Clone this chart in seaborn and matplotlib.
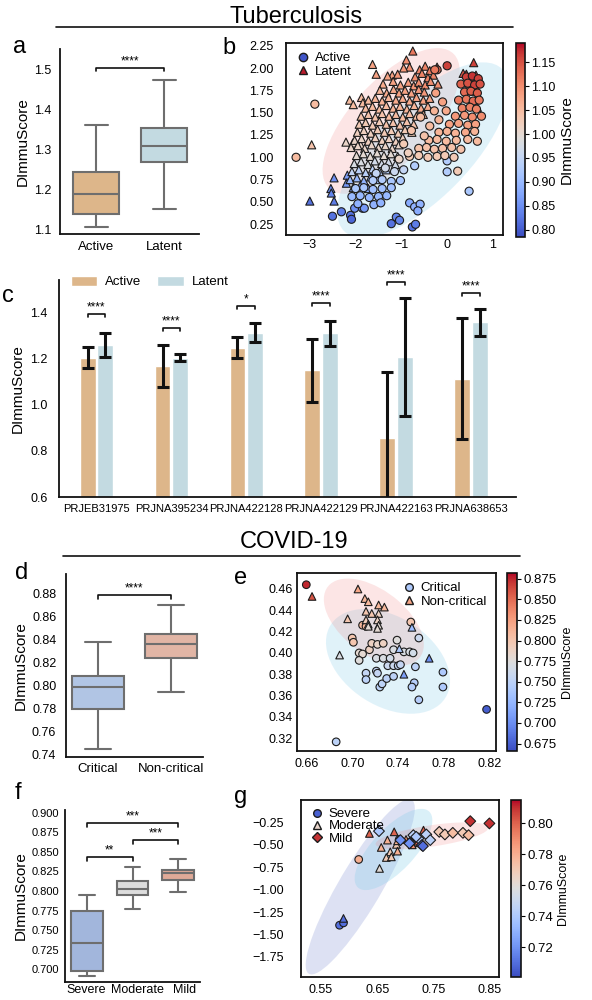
import numpy as np
import pandas as pd
import seaborn as sns
import matplotlib as mpl
import matplotlib.pyplot as plt
import matplotlib.transforms as transforms
from matplotlib.patches import Ellipse
from matplotlib.lines import Line2D

### Panel a: box summaries (min, q1, median, q3, max)
a_groups = ['Active', 'Latent']
a_active = [1.108, 1.140, 1.189, 1.244, 1.361]
a_latent = [1.151, 1.270, 1.309, 1.353, 1.472]
a_colors = ['#EBB77C', '#BEDDE6']

### Panel b: (x, y, DImmuScore)
b_active = [
    (-3.30, 1.00, 1.05), (-2.89, 1.595, 1.05), (0.00, 2.025, 1.16), (-0.22, 1.98, 1.13), (-0.27, 1.98, 1.12),
    (0.23, 0.845, 1.03), (0.00, 0.838, 0.93), (0.00, 0.96, 0.93), (0.48, 0.62, 0.92), (-0.71, 0.905, 0.93),
    (-2.505, 0.34, 0.82), (-2.31, 0.39, 0.83), (-2.11, 0.35, 0.82), (-2.09, 0.306, 0.81), (-2.02, 0.43, 0.85),
    (-1.85, 0.43, 0.86), (-1.81, 0.43, 0.86), (-1.22, 0.257, 0.82), (-1.11, 0.33, 0.84), (-1.04, 0.295, 0.84),
    (-0.82, 0.49, 0.88), (-0.71, 0.445, 0.89), (-0.59, 0.475, 0.89), (-0.64, 0.40, 0.88), (-0.76, 0.22, 0.82),
    (-0.69, 0.25, 0.83),
    (0.42, 1.90, 1.16), (0.55, 1.91, 1.17), (0.68, 1.88, 1.16),
    (0.30, 1.82, 1.14), (0.45, 1.83, 1.15), (0.60, 1.81, 1.16), (0.72, 1.82, 1.15),
    (0.38, 1.73, 1.13), (0.52, 1.74, 1.14), (0.66, 1.72, 1.14),
    (0.25, 1.64, 1.12), (0.42, 1.65, 1.12), (0.57, 1.63, 1.13), (0.70, 1.64, 1.12),
    (0.33, 1.55, 1.11), (0.50, 1.56, 1.11), (0.64, 1.54, 1.11),
    (0.18, 1.46, 1.09), (0.38, 1.47, 1.09), (0.55, 1.45, 1.10), (0.75, 1.46, 1.10),
    (0.05, 1.37, 1.08), (0.25, 1.38, 1.08), (0.45, 1.36, 1.08), (0.62, 1.37, 1.08),
    (-0.18, 1.28, 1.06), (0.00, 1.29, 1.06), (0.18, 1.27, 1.06), (0.40, 1.28, 1.07), (0.60, 1.29, 1.06),
    (-0.40, 1.19, 1.05), (-0.22, 1.20, 1.05), (-0.02, 1.18, 1.05), (0.20, 1.19, 1.05), (0.45, 1.20, 1.05), (0.66, 1.18, 1.05),
    (-0.62, 1.10, 1.04), (-0.45, 1.11, 1.04), (-0.28, 1.09, 1.04), (-0.10, 1.10, 1.04), (0.10, 1.11, 1.04), (0.30, 1.09, 1.04),
    (-0.82, 1.01, 1.03), (-0.62, 1.02, 1.03), (-0.42, 1.00, 1.03), (-0.22, 1.01, 1.03), (-0.05, 1.02, 1.03), (0.15, 1.00, 1.03),
    (-0.58, 1.45, 1.05), (-0.38, 1.35, 1.05), (-0.28, 1.52, 1.06), (-0.78, 1.30, 1.04), (-0.50, 1.24, 1.04),
    (-0.18, 1.42, 1.06), (-0.10, 1.62, 1.08), (-0.02, 1.52, 1.07), (-0.25, 1.72, 1.08), (-0.95, 1.15, 1.03),
    (-0.85, 1.05, 1.02), (-1.05, 0.98, 1.01),
    (-1.35, 0.88, 0.97), (-1.15, 0.84, 0.96), (-0.95, 0.86, 0.95), (-1.55, 0.82, 0.95),
    (-1.62, 0.74, 0.93), (-1.42, 0.75, 0.93), (-1.22, 0.73, 0.92), (-1.02, 0.74, 0.92),
    (-2.00, 0.65, 0.92), (-1.82, 0.66, 0.92), (-1.62, 0.64, 0.91), (-1.42, 0.65, 0.91), (-1.22, 0.66, 0.91),
    (-2.08, 0.56, 0.90), (-1.90, 0.57, 0.90), (-1.70, 0.55, 0.90), (-1.50, 0.56, 0.90), (-1.32, 0.57, 0.90),
    (-1.95, 0.48, 0.89), (-1.60, 0.47, 0.89), (-1.45, 0.49, 0.89),
]
b_latent = [
    (-2.96, 1.14, 1.04), (-3.00, 0.51, 0.82), (-2.47, 0.77, 0.85), (-2.54, 0.65, 0.84), (-2.53, 0.60, 0.84),
    (-2.47, 0.51, 0.83), (-2.18, 0.80, 0.87), (-2.20, 0.71, 0.86), (-2.13, 1.64, 1.05), (-2.05, 1.59, 1.05),
    (-1.87, 1.67, 1.05), (-1.84, 1.61, 1.05), (-1.63, 2.04, 1.08), (-1.55, 1.93, 1.08), (-0.89, 2.09, 1.10),
    (-0.75, 2.19, 1.12), (-0.82, 2.01, 1.10), (-1.20, 1.92, 1.08), (0.58, 2.06, 1.16), (0.35, 1.94, 1.15),
    (-2.21, 1.17, 1.01), (-2.06, 1.16, 1.01), (-1.89, 1.14, 1.01),
    (-0.95, 2.00, 1.09), (-0.60, 1.98, 1.11), (-0.48, 2.02, 1.11), (-0.38, 1.97, 1.12), (-0.22, 2.01, 1.12),
    (-1.30, 1.91, 1.08), (-1.08, 1.93, 1.09), (-0.70, 1.90, 1.10), (-0.55, 1.94, 1.11), (-0.42, 1.89, 1.11),
    (-0.30, 1.92, 1.11), (0.42, 1.93, 1.15), (0.52, 1.90, 1.16), (0.63, 1.92, 1.16), (0.70, 1.88, 1.15),
    (-1.40, 1.82, 1.07), (-1.18, 1.85, 1.08), (-1.02, 1.81, 1.08), (-0.85, 1.84, 1.09), (-0.73, 1.80, 1.09),
    (-0.62, 1.84, 1.10), (-0.48, 1.81, 1.10), (-0.36, 1.85, 1.10), (-0.20, 1.82, 1.10), (0.47, 1.83, 1.14),
    (0.62, 1.80, 1.15),
    (-1.47, 1.75, 1.06), (-1.32, 1.72, 1.07), (-1.17, 1.76, 1.07), (-1.05, 1.72, 1.08), (-0.92, 1.75, 1.08),
    (-0.78, 1.72, 1.08), (-0.62, 1.76, 1.09), (-0.50, 1.73, 1.09), (0.58, 1.74, 1.13),
    (-1.72, 1.64, 1.05), (-1.57, 1.66, 1.06), (-1.42, 1.63, 1.06), (-1.28, 1.67, 1.06), (-1.12, 1.64, 1.07),
    (-0.97, 1.66, 1.07), (-0.82, 1.63, 1.07), (-0.67, 1.67, 1.08), (-0.52, 1.64, 1.08), (-0.38, 1.66, 1.08),
    (0.63, 1.65, 1.12),
    (-1.78, 1.55, 1.05), (-1.63, 1.57, 1.05), (-1.48, 1.54, 1.05), (-1.33, 1.58, 1.05), (-1.18, 1.55, 1.06),
    (-1.03, 1.57, 1.06), (-0.88, 1.54, 1.06), (-0.72, 1.58, 1.06), (-0.57, 1.55, 1.07), (-0.42, 1.57, 1.07),
    (0.66, 1.56, 1.11),
    (-1.88, 1.46, 1.04), (-1.72, 1.48, 1.04), (-1.57, 1.45, 1.04), (-1.42, 1.49, 1.04), (-1.27, 1.46, 1.05),
    (-1.12, 1.48, 1.05), (-0.97, 1.45, 1.05), (-0.82, 1.49, 1.05), (-0.67, 1.46, 1.05), (-0.52, 1.48, 1.06),
    (-1.92, 1.37, 1.03), (-1.78, 1.39, 1.03), (-1.63, 1.36, 1.03), (-1.48, 1.40, 1.03), (-1.33, 1.37, 1.04),
    (-1.18, 1.39, 1.04), (-1.03, 1.36, 1.04), (-0.88, 1.40, 1.04), (-0.73, 1.37, 1.04),
    (-1.96, 1.28, 1.02), (-1.82, 1.30, 1.02), (-1.67, 1.27, 1.02), (-1.52, 1.31, 1.03), (-1.37, 1.28, 1.03),
    (-1.22, 1.30, 1.03), (-1.07, 1.27, 1.03), (-0.92, 1.31, 1.03), (-0.77, 1.28, 1.03),
    (-2.02, 1.19, 1.01), (-1.87, 1.21, 1.01), (-1.72, 1.18, 1.02), (-1.57, 1.22, 1.02), (-1.42, 1.19, 1.02),
    (-1.27, 1.21, 1.02), (-1.12, 1.18, 1.02), (-0.97, 1.22, 1.02),
    (-2.10, 1.11, 1.01), (-1.95, 1.13, 1.01), (-1.80, 1.10, 1.01), (-1.65, 1.14, 1.01), (-1.50, 1.11, 1.01),
    (-1.35, 1.13, 1.01), (-1.20, 1.10, 1.01), (-1.05, 1.14, 1.01),
    (-1.98, 1.02, 1.00), (-1.83, 1.04, 1.00), (-1.68, 1.01, 1.00), (-1.53, 1.05, 1.00), (-1.38, 1.02, 1.00),
    (-1.23, 1.04, 1.00), (-1.08, 1.01, 0.99),
    (-2.03, 0.93, 0.98), (-1.88, 0.95, 0.98), (-1.73, 0.92, 0.98), (-1.58, 0.96, 0.97), (-1.43, 0.93, 0.97),
    (-1.28, 0.95, 0.97), (-1.13, 0.92, 0.97),
    (-2.08, 0.84, 0.95), (-1.93, 0.86, 0.94), (-1.78, 0.83, 0.94), (-1.63, 0.87, 0.94), (-1.48, 0.84, 0.93),
    (-1.33, 0.86, 0.93),
    (-2.12, 0.75, 0.90), (-1.97, 0.77, 0.90), (-1.82, 0.74, 0.89), (-1.67, 0.78, 0.90), (-1.52, 0.75, 0.91),
    (-2.05, 0.66, 0.87), (-1.90, 0.68, 0.87), (-1.72, 0.65, 0.88),
]

### Panel c: per-project means and error half-widths
c_projects = ['PRJEB31975', 'PRJNA395234', 'PRJNA422128', 'PRJNA422129', 'PRJNA422163', 'PRJNA638653']
c_active_mean = [1.204, 1.167, 1.246, 1.148, 0.855, 1.112]
c_active_err = [0.044, 0.092, 0.046, 0.138, 0.286, 0.262]
c_latent_mean = [1.259, 1.204, 1.312, 1.309, 1.206, 1.357]
c_latent_err = [0.053, 0.014, 0.041, 0.053, 0.256, 0.058]
c_sig = ['****', '****', '*', '****', '****', '****']
c_sig_y = [1.391, 1.334, 1.427, 1.439, 1.532, 1.482]

### Panel d
d_groups = ['Critical', 'Non-critical']
d_critical = [0.7444, 0.7792, 0.7981, 0.8083, 0.8376]
d_noncritical = [0.7943, 0.8239, 0.8356, 0.8443, 0.8698]
d_colors = ['#A9C3EC', '#EBB09B']

### Panel e: (x, y, DImmuScore)
e_critical = [
    (0.660, 0.464, 0.875), (0.686, 0.3166, 0.75), (0.817, 0.347, 0.675), (0.751, 0.429, 0.80), (0.758, 0.414, 0.76),
    (0.700, 0.414, 0.80), (0.701, 0.410, 0.80), (0.709, 0.426, 0.81), (0.712, 0.425, 0.81), (0.706, 0.400, 0.78),
    (0.709, 0.399, 0.78), (0.715, 0.403, 0.79), (0.717, 0.409, 0.79), (0.722, 0.408, 0.785), (0.727, 0.409, 0.79),
    (0.721, 0.395, 0.77), (0.727, 0.395, 0.77), (0.733, 0.395, 0.765), (0.736, 0.403, 0.77), (0.739, 0.412, 0.775),
    (0.731, 0.388, 0.76), (0.736, 0.388, 0.76), (0.740, 0.388, 0.755), (0.742, 0.389, 0.755), (0.745, 0.401, 0.77),
    (0.750, 0.401, 0.77), (0.753, 0.400, 0.765), (0.712, 0.381, 0.755), (0.712, 0.375, 0.75), (0.721, 0.383, 0.755),
    (0.722, 0.381, 0.755), (0.724, 0.368, 0.75), (0.726, 0.371, 0.75), (0.730, 0.376, 0.75), (0.736, 0.378, 0.75),
    (0.755, 0.387, 0.75), (0.754, 0.372, 0.745), (0.752, 0.368, 0.745), (0.758, 0.356, 0.745), (0.779, 0.382, 0.74),
    (0.779, 0.368, 0.74), (0.706, 0.393, 0.775),
]
e_noncritical = [
    (0.665, 0.453, 0.86), (0.705, 0.460, 0.82), (0.711, 0.451, 0.81), (0.714, 0.448, 0.81), (0.712, 0.439, 0.80),
    (0.717, 0.437, 0.80), (0.723, 0.445, 0.81), (0.728, 0.443, 0.81), (0.723, 0.437, 0.79), (0.696, 0.432, 0.80),
    (0.712, 0.431, 0.795), (0.714, 0.427, 0.78), (0.722, 0.431, 0.79), (0.723, 0.426, 0.78), (0.722, 0.423, 0.78),
    (0.714, 0.425, 0.78), (0.689, 0.398, 0.77), (0.752, 0.424, 0.73), (0.741, 0.404, 0.74), (0.745, 0.380, 0.71),
    (0.767, 0.395, 0.70),
]

### Panel f
f_groups = ['Severe', 'Moderate', 'Mild']
f_severe = [0.6915, 0.6974, 0.7341, 0.7746, 0.7955]
f_moderate = [0.7768, 0.7947, 0.8019, 0.8122, 0.8301]
f_mild = [0.7985, 0.8143, 0.8224, 0.8262, 0.8412]
f_colors = ['#98B3E6', '#DDDDDD', '#EBA48C']

### Panel g: (x, y, DImmuScore)
g_severe = [(0.617, -0.663, 0.78), (0.583, -1.396, 0.71), (0.590, -1.370, 0.71), (0.689, -0.440, 0.72)]
g_moderate = [
    (0.636, -0.373, 0.80), (0.680, -0.355, 0.80), (0.668, -0.447, 0.78), (0.657, -0.529, 0.78), (0.684, -0.495, 0.77),
    (0.673, -0.578, 0.77), (0.666, -0.641, 0.77), (0.675, -0.634, 0.77), (0.686, -0.570, 0.78), (0.654, -0.763, 0.76),
    (0.686, -0.455, 0.78), (0.701, -0.440, 0.79), (0.732, -0.336, 0.80), (0.717, -0.477, 0.785), (0.590, -1.320, 0.71),
    (0.722, -0.460, 0.80), (0.712, -0.500, 0.79),
]
g_mild = [
    (0.653, -0.347, 0.74), (0.691, -0.447, 0.72), (0.708, -0.477, 0.72), (0.723, -0.429, 0.74), (0.737, -0.384, 0.745),
    (0.729, -0.503, 0.715), (0.744, -0.447, 0.745), (0.714, -0.392, 0.745), (0.760, -0.355, 0.77), (0.770, -0.384, 0.77),
    (0.784, -0.366, 0.775), (0.802, -0.366, 0.77), (0.812, -0.392, 0.775), (0.815, -0.236, 0.81), (0.849, -0.261, 0.81),
    (0.731, -0.514, 0.71), (0.707, -0.484, 0.72), (0.719, -0.410, 0.74),
]

sns.set_theme(style='white')
plt.rcParams['font.family'] = ['Liberation Sans', 'DejaVu Sans']
plt.rcParams.update({'text.color': 'black', 'axes.labelcolor': 'black',
                     'xtick.color': 'black', 'ytick.color': 'black'})
cmap = mpl.colormaps['coolwarm']

W, H = 592, 1000
fig = plt.figure(figsize=(W / 100, H / 100), dpi=100)


def px_axes(l, t, r, b):
    return fig.add_axes([l / W, 1 - b / H, (r - l) / W, (b - t) / H])


def conf_ellipse(ax, pts, n_std, color, alpha):
    x = np.array([p[0] for p in pts])
    y = np.array([p[1] for p in pts])
    cov = np.cov(x, y)
    pearson = cov[0, 1] / np.sqrt(cov[0, 0] * cov[1, 1])
    ell = Ellipse((0, 0), width=2 * np.sqrt(1 + pearson), height=2 * np.sqrt(1 - pearson),
                  facecolor=color, alpha=alpha, edgecolor='none', zorder=0)
    tr = transforms.Affine2D().rotate_deg(45).scale(np.sqrt(cov[0, 0]) * n_std, np.sqrt(cov[1, 1]) * n_std)
    ell.set_transform(tr.translate(x.mean(), y.mean()) + ax.transData)
    ax.add_patch(ell)


def bracket(ax, x1, x2, y, h, text, fs=8.5):
    ax.plot([x1, x1, x2, x2], [y - h, y, y, y - h], color='#111111', lw=1.2, clip_on=False)
    ax.text((x1 + x2) / 2, y + h * 0.2, text, ha='center', va='bottom', fontsize=fs)


def style_spines(ax, sides):
    for s in sides:
        ax.spines[s].set_color('#111111')
        ax.spines[s].set_linewidth(1.3)


def box_panel(ax, groups, stats, colors, width, xpad, ypad):
    df = pd.DataFrame({'group': np.repeat(groups, 5), 'score': np.concatenate(stats)})
    sns.boxplot(data=df, x='group', y='score', hue='group', palette=colors, whis=(0, 100),
                width=width, linecolor='#6e6e6e', linewidth=1.5, legend=False, ax=ax)
    sns.despine(ax=ax)
    style_spines(ax, ['left', 'bottom'])
    ax.set_xlabel('')
    ax.set_ylabel('DImmuScore', fontsize=11, labelpad=3)
    ax.tick_params(axis='y', labelsize=9, length=0, pad=ypad)
    ax.tick_params(axis='x', labelsize=9.5, length=0, pad=xpad)


def scatter_panel(ax, groups, pts, markers, norm, size, ell_colors, ell_alpha, n_std, xpad, ypad):
    rows = [(g, x, y, s) for g, p in zip(groups, pts) for x, y, s in p]
    df = pd.DataFrame(rows, columns=['group', 'x', 'y', 'score'])
    for p, col, al in zip(pts, ell_colors, ell_alpha):
        conf_ellipse(ax, p, n_std, col, al)
    sns.scatterplot(data=df, x='x', y='y', hue='score', palette='coolwarm', hue_norm=norm,
                    style='group', markers=markers, s=size, edgecolor='#1c1c1c', linewidth=0.8,
                    legend=False, ax=ax, zorder=3)
    ax.set_xlabel('')
    ax.set_ylabel('')
    style_spines(ax, ['left', 'bottom', 'right', 'top'])
    ax.tick_params(axis='x', labelsize=9, length=0, pad=xpad)
    ax.tick_params(axis='y', labelsize=9, length=0, pad=ypad)


def add_cbar(rect, norm, ticks, fs_label, fs_ticks):
    cax = px_axes(*rect)
    sm = mpl.cm.ScalarMappable(norm=norm, cmap=cmap)
    cb = fig.colorbar(sm, cax=cax, ticks=ticks)
    cb.set_label('DImmuScore', fontsize=fs_label, labelpad=3)
    cb.ax.tick_params(labelsize=fs_ticks, length=3, width=0.8, right=True, pad=1.5)
    cb.outline.set_linewidth(1.2)
    cb.outline.set_edgecolor('#111111')


### Headings
fig.text(296 / W, 1 - 17 / H, 'Tuberculosis', ha='center', va='center', fontsize=17)
fig.add_artist(Line2D([56 / W, 513 / W], [1 - 27 / H] * 2, color='#111111', lw=1.2))
fig.text(294 / W, 1 - 542 / H, 'COVID-19', ha='center', va='center', fontsize=17)
fig.add_artist(Line2D([63 / W, 520 / W], [1 - 556 / H] * 2, color='#111111', lw=1.2))
for lab, x, y in [('a', 20, 47), ('b', 229, 48), ('c', 8, 296), ('d', 22, 573),
                  ('e', 241, 578), ('f', 18, 793), ('g', 241, 797)]:
    fig.text(x / W, 1 - y / H, lab, ha='center', va='center', fontsize=17)

### a
ax = px_axes(60, 49, 199, 234)
box_panel(ax, a_groups, [a_active, a_latent], a_colors, 0.68, 5, 6)
ax.set_ylim(1.09, 1.55)
ax.set_yticks([1.1, 1.2, 1.3, 1.4, 1.5])
ax.set_xlim(-0.53, 1.51)
bracket(ax, 0, 1, 1.502, 0.007, '****')

### b
ax = px_axes(286, 43, 503, 235)
norm_b = mpl.colors.Normalize(0.785, 1.19)
scatter_panel(ax, ['Latent', 'Active'], [b_latent, b_active], {'Active': 'o', 'Latent': '^'}, norm_b, 34,
              ['#F08080', '#87CEEB'], [0.2, 0.25], 2.0, 3, 9)
ax.set_xlim(-3.52, 1.22)
ax.set_ylim(0.13, 2.28)
ax.set_xticks([-3, -2, -1, 0, 1])
ax.set_yticks([0.25, 0.5, 0.75, 1.0, 1.25, 1.5, 1.75, 2.0, 2.25])
ax.set_yticklabels(['0.25', '0.50', '0.75', '1.00', '1.25', '1.50', '1.75', '2.00', '2.25'])
hb = [Line2D([], [], marker='o', ls='', markerfacecolor=cmap(0.02), markeredgecolor='#1c1c1c', markersize=6),
      Line2D([], [], marker='^', ls='', markerfacecolor=cmap(0.98), markeredgecolor='#1c1c1c', markersize=6)]
ax.legend(hb, ['Active', 'Latent'], loc='upper left', frameon=False, fontsize=9.5, handletextpad=0.3,
          labelspacing=0.1, borderaxespad=0.3, handlelength=1.2)
add_cbar((516, 43, 525, 237), norm_b, [0.80, 0.85, 0.90, 0.95, 1.00, 1.05, 1.10, 1.15], 11, 9)

### c
ax = px_axes(59, 280, 516, 497)
c_df = pd.DataFrame({'project': c_projects * 2,
                     'group': ['Active'] * 6 + ['Latent'] * 6,
                     'score': c_active_mean + c_latent_mean})
sns.barplot(data=c_df, x='project', y='score', hue='group', palette={'Active': '#EBB77C', 'Latent': '#BEDDE6'},
            errorbar=None, width=0.47, gap=0.1, ax=ax)
centers = sorted(p.get_x() + p.get_width() / 2 for p in ax.patches if p.get_width() > 0)
act_x = [c for c in centers if round(c) - c > 0]
lat_x = [c for c in centers if round(c) - c < 0]
ax.errorbar(act_x, c_active_mean, yerr=c_active_err, fmt='none', ecolor='#111111', elinewidth=2.2,
            capsize=4, capthick=2.2, zorder=4)
ax.errorbar(lat_x, c_latent_mean, yerr=c_latent_err, fmt='none', ecolor='#111111', elinewidth=2.2,
            capsize=4, capthick=2.2, zorder=4)
for xa, xl, s, y in zip(act_x, lat_x, c_sig, c_sig_y):
    bracket(ax, xa, xl, y, 0.013, s)
ax.set_ylim(0.6, 1.54)
ax.set_xlim(-0.5, 5.6)
ax.set_yticks([0.6, 0.8, 1.0, 1.2, 1.4])
sns.despine(ax=ax)
style_spines(ax, ['left', 'bottom'])
ax.set_xlabel('')
ax.set_ylabel('DImmuScore', fontsize=11, labelpad=4)
ax.tick_params(axis='y', labelsize=9, length=0, pad=8)
ax.tick_params(axis='x', labelsize=8, length=0, pad=5)
h, l = ax.get_legend_handles_labels()
ax.legend(h, l, loc='center left', bbox_to_anchor=(0.0, 0.99), ncol=2, frameon=False, fontsize=9.5,
          handlelength=2.0, handleheight=0.8, columnspacing=1.2, handletextpad=0.6)

### d
ax = px_axes(66, 574, 203, 757)
box_panel(ax, d_groups, [d_critical, d_noncritical], d_colors, 0.7, 4, 7)
ax.set_ylim(0.7377, 0.8966)
ax.set_yticks([0.74, 0.76, 0.78, 0.80, 0.82, 0.84, 0.86, 0.88])
bracket(ax, 0, 1, 0.8783, 0.0035, '****')

### e
ax = px_axes(297, 573, 496, 751)
norm_e = mpl.colors.Normalize(0.666, 0.882)
scatter_panel(ax, ['Critical', 'Non-critical'], [e_critical, e_noncritical],
              {'Critical': 'o', 'Non-critical': '^'}, norm_e, 30, ['#87CEEB', '#F08080'], [0.25, 0.2], 2.0, 5, 3)
ax.set_xlim(0.6519, 0.8252)
ax.set_ylim(0.308, 0.475)
ax.set_xticks([0.66, 0.70, 0.74, 0.78, 0.82])
ax.set_yticks([0.32, 0.34, 0.36, 0.38, 0.40, 0.42, 0.44, 0.46])
he = [Line2D([], [], marker='o', ls='', markerfacecolor=cmap(0.35), markeredgecolor='#1c1c1c', markersize=5.5),
      Line2D([], [], marker='^', ls='', markerfacecolor=cmap(0.72), markeredgecolor='#1c1c1c', markersize=5.5)]
ax.legend(he, ['Critical', 'Non-critical'], loc='upper right', frameon=False, fontsize=9.5, handletextpad=0.3,
          labelspacing=0.1, borderaxespad=0.3, handlelength=1.2)
add_cbar((507, 573, 517, 751), norm_e, [0.675, 0.700, 0.725, 0.750, 0.775, 0.800, 0.825, 0.850, 0.875], 9, 9.5)

### f
ax = px_axes(65, 810, 200, 982)
box_panel(ax, f_groups, [f_severe, f_moderate, f_mild], f_colors, 0.7, 1.5, 4)
ax.set_ylim(0.6838, 0.9034)
ax.set_yticks([0.700, 0.725, 0.750, 0.775, 0.800, 0.825, 0.850, 0.875, 0.900])
ax.tick_params(axis='y', labelsize=8)
ax.tick_params(axis='x', labelsize=9)
for lbl, dx in zip(ax.get_xticklabels(), [-1, 5, 7]):
    lbl.set_transform(lbl.get_transform() + transforms.ScaledTranslation(dx / 100, 0, fig.dpi_scale_trans))
bracket(ax, 0, 1, 0.8437, 0.005, '**')
bracket(ax, 1, 2, 0.865, 0.005, '***')
bracket(ax, 0, 2, 0.8864, 0.005, '***')

### g
ax = px_axes(301, 800, 499, 977)
norm_g = mpl.colors.Normalize(0.701, 0.815)
scatter_panel(ax, ['Severe', 'Moderate', 'Mild'], [g_severe, g_moderate, g_mild],
              {'Severe': 'o', 'Moderate': '^', 'Mild': 'D'}, norm_g, 30,
              ['#7B8BD0', '#87CEEB', '#F08080'], [0.25, 0.3, 0.2], 2.0, 5, 12)
ax.set_xlim(0.5146, 0.866)
ax.set_ylim(-1.973, 0.0)
ax.set_xticks([0.55, 0.65, 0.75, 0.85])
ax.set_yticks([-1.75, -1.5, -1.25, -1.0, -0.75, -0.5, -0.25])
hg = [Line2D([], [], marker='o', ls='', markerfacecolor=cmap(0.05), markeredgecolor='#1c1c1c', markersize=5.5),
      Line2D([], [], marker='^', ls='', markerfacecolor=cmap(0.55), markeredgecolor='#1c1c1c', markersize=5.5),
      Line2D([], [], marker='D', ls='', markerfacecolor=cmap(0.95), markeredgecolor='#1c1c1c', markersize=5.5)]
ax.legend(hg, ['Severe', 'Moderate', 'Mild'], loc='upper left', frameon=False, fontsize=9.5, handletextpad=0.3,
          labelspacing=0.0, borderaxespad=0.2, handlelength=1.2)
add_cbar((511, 800, 521, 977), norm_g, [0.72, 0.74, 0.76, 0.78, 0.80], 9, 9.5)

fig.savefig('out.png', dpi=100)
